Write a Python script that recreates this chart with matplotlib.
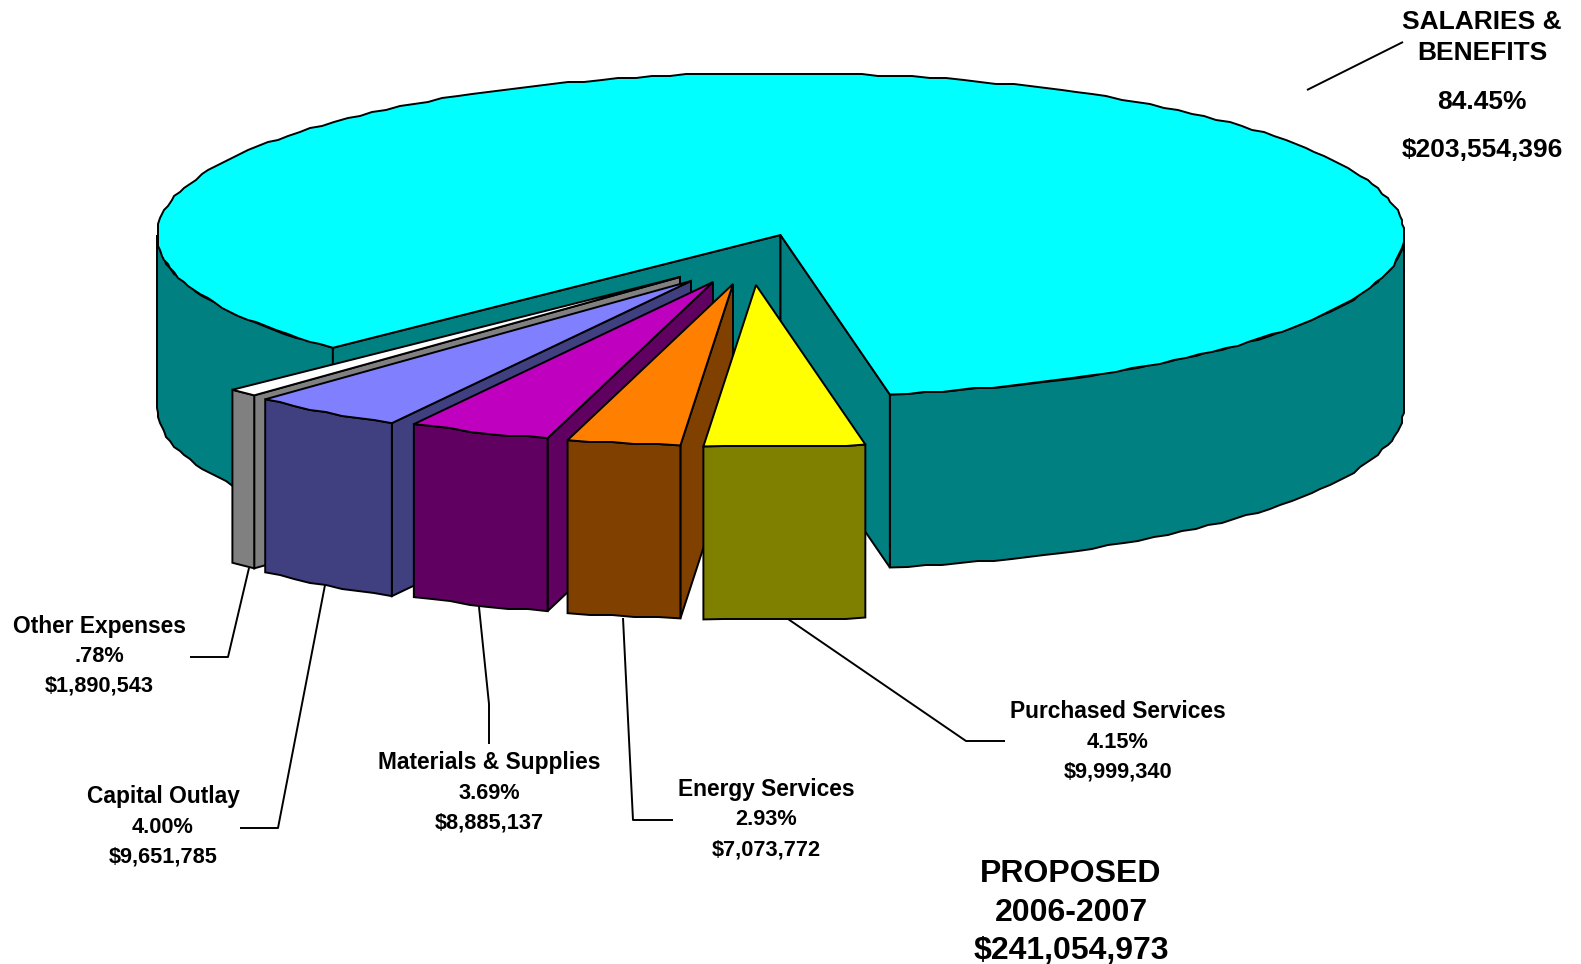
import numpy as np
import matplotlib
matplotlib.use("Agg")
import matplotlib.pyplot as plt
from matplotlib.patches import Polygon

plt.rcParams['font.family'] = ['Liberation Sans', 'DejaVu Sans']

# Budget shares, in the order they run round the pie
categories = ['Purchased Services', 'Energy Services', 'Materials & Supplies',
              'Capital Outlay', 'Other Expenses', 'SALARIES &\nBENEFITS']
percents = [4.15, 2.93, 3.69, 4.00, 0.78, 84.45]
percent_labels = ['4.15%', '2.93%', '3.69%', '4.00%', '.78%', '84.45%']
amount_labels = ['$9,999,340', '$7,073,772', '$8,885,137',
                 '$9,651,785', '$1,890,543', '$203,554,396']
total_title = 'PROPOSED\n2006-2007\n$241,054,973'

top_colors = ['#FFFF00', '#FF8000', '#BF00BF', '#8080FF', '#FFFFFF', '#00FFFF']
side_colors = ['#808000', '#804000', '#600060', '#404080', '#808080', '#008080']

# Pie geometry in pixels
cx, cy = 780.5, 235
rx, ry = 623.5, 162
depth = 173
start_angle = 79.9
grid = 2.0

# Where the tip of each pulled-out slice ends up
tips = [(756, 285), (733, 284), (713, 282), (691, 281), (680, 277)]

# Label centres for the small slices
label_x = [1118, 766, 489, 163, 99]
label_y = [712, 789.5, 763, 797, 626]
line_gap = 30.2

# Leader lines
leaders = [
    [(788, 619), (966, 741), (1005, 741)],
    [(623, 618), (633, 820), (673, 820)],
    [(479, 607), (489, 704), (489, 744)],
    [(325, 585), (278, 828), (240, 828)],
    [(249, 568), (228, 657), (190, 657)],
    [(1307, 90), (1403, 42)],
]


def arc(x0, y0, a1, a2):
    # Rim of the ellipse, snapped to a coarse grid so the edge stays stepped
    n = max(int(abs(a2 - a1) / 1.6), 2)
    t = np.radians(np.linspace(a1, a2, n))
    x = x0 + rx * np.cos(t)
    y = y0 + ry * np.sin(t)
    x[1:-1] = np.round(x[1:-1] / grid) * grid
    y[1:-1] = np.round(y[1:-1] / grid) * grid
    return np.column_stack([x, y])


def face(ax, pts, color):
    ax.add_patch(Polygon(pts, closed=True, facecolor=color, edgecolor='black',
                         linewidth=1.4, joinstyle='miter'))


def wall(ax, x0, y0, a1, a2, color):
    rim = arc(x0, y0, a1, a2)
    face(ax, np.vstack([rim, (rim + [0, depth])[::-1]]), color)


def cut(ax, x0, y0, angle, color):
    t = np.radians(angle)
    ex, ey = x0 + rx * np.cos(t), y0 + ry * np.sin(t)
    face(ax, [(x0, y0), (ex, ey), (ex, ey + depth), (x0, y0 + depth)], color)


fig = plt.figure(figsize=(15.81, 9.64), dpi=100)
ax = fig.add_axes([0, 0, 1, 1])
ax.set_xlim(0, 1581)
ax.set_ylim(964, 0)
ax.axis('off')

spans = np.array(percents) * 3.6
edges = start_angle + np.concatenate([[0], np.cumsum(spans)])

# Salaries slice stays at the centre
big_start, big_end = edges[5], edges[6]
wall(ax, cx, cy, big_start, 180, side_colors[5])
wall(ax, cx, cy, 0, start_angle, side_colors[5])
cut(ax, cx, cy, big_start, side_colors[5])
cut(ax, cx, cy, start_angle, side_colors[5])
face(ax, np.vstack([[(cx, cy)], arc(cx, cy, big_start, big_end)]), top_colors[5])

# Pulled-out slices, back to front from the left
for i in [4, 3, 2, 1, 0]:
    x0, y0 = tips[i]
    a1, a2 = edges[i], edges[i + 1]
    if np.cos(np.radians(a1)) < 0:
        cut(ax, x0, y0, a1, side_colors[i])
    wall(ax, x0, y0, a1, a2, side_colors[i])
    face(ax, np.vstack([[(x0, y0)], arc(x0, y0, a1, a2)]), top_colors[i])

for pts in leaders:
    xs, ys = zip(*pts)
    ax.plot(xs, ys, color='black', lw=1.4, solid_capstyle='butt')

for i in range(5):
    ax.text(label_x[i], label_y[i], categories[i], ha='center', va='center',
            fontsize=16.4, fontweight='bold')
    ax.text(label_x[i], label_y[i] + line_gap, percent_labels[i], ha='center',
            va='center', fontsize=15.7, fontweight='bold')
    ax.text(label_x[i], label_y[i] + 2 * line_gap, amount_labels[i], ha='center',
            va='center', fontsize=15.7, fontweight='bold')

big_lines = categories[5].split('\n') + [percent_labels[5], amount_labels[5]]
for s, y in zip(big_lines, [22, 53.5, 102, 150]):
    ax.text(1482, y, s, ha='center', va='center', fontsize=19, fontweight='bold')

for s, y in zip(total_title.split('\n'), [874.5, 913, 951]):
    ax.text(1071, y, s, ha='center', va='center', fontsize=23, fontweight='bold')

fig.savefig('out.png', dpi=100)
